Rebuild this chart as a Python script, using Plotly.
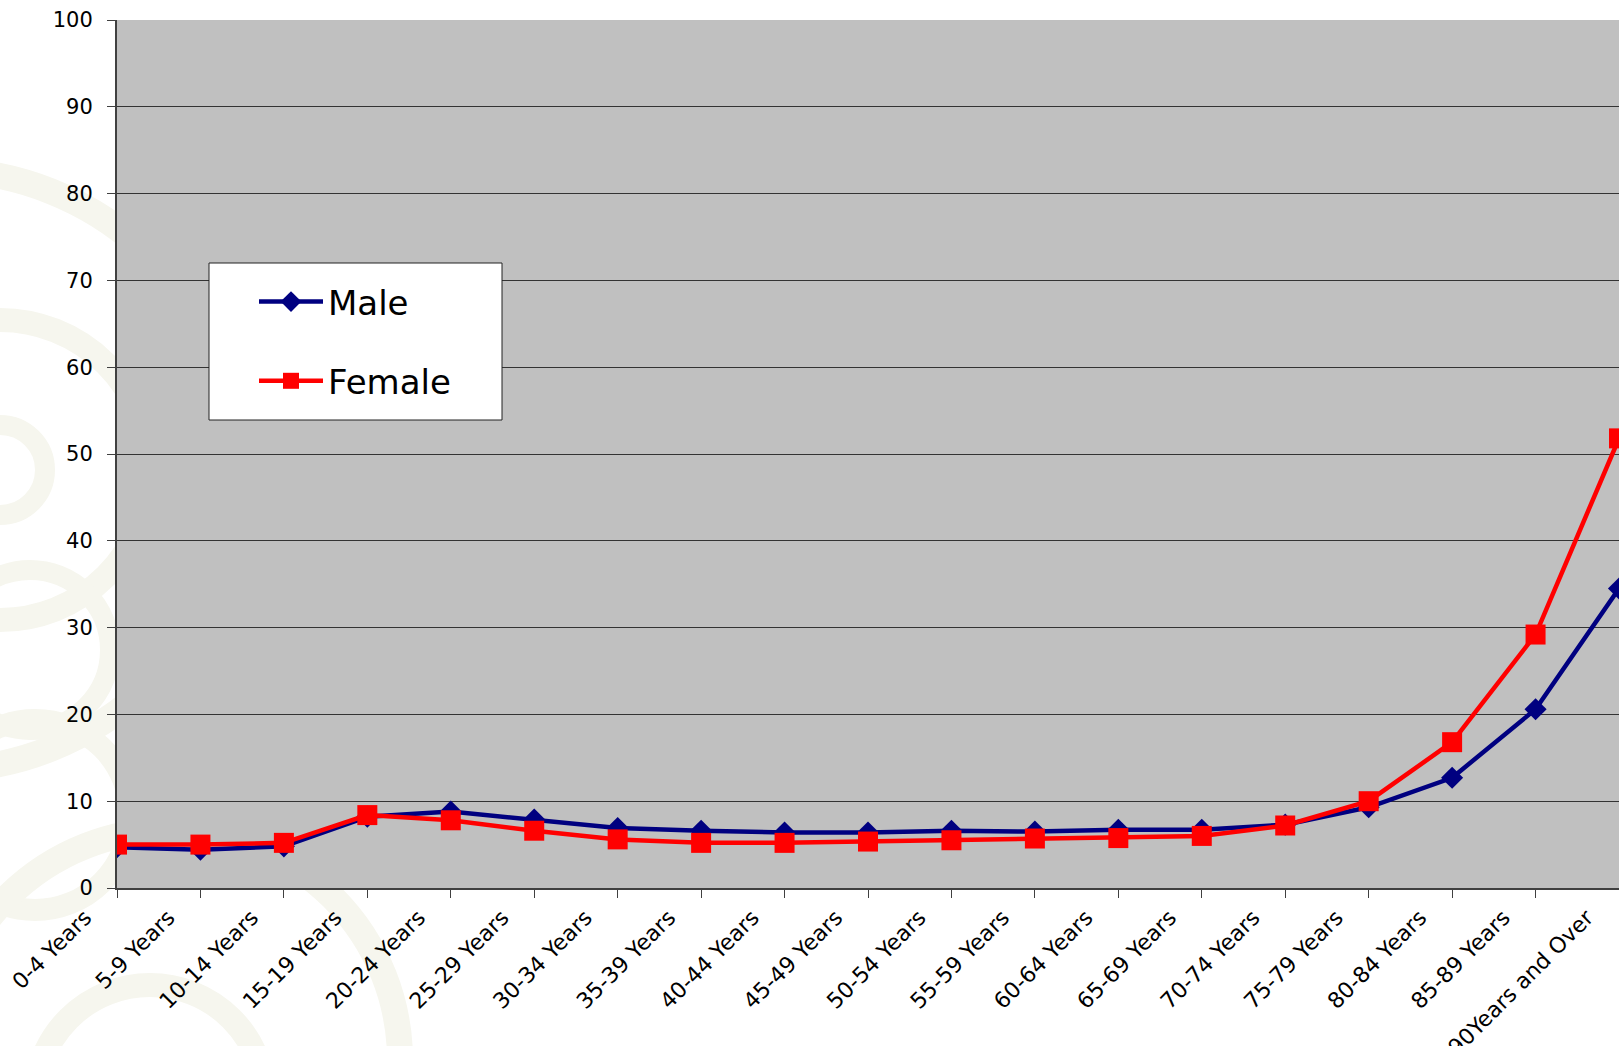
import plotly.graph_objects as go

categories = ["0-4 Years", "5-9 Years", "10-14 Years", "15-19 Years", "20-24 Years",
              "25-29 Years", "30-34 Years", "35-39 Years", "40-44 Years", "45-49 Years",
              "50-54 Years", "55-59 Years", "60-64 Years", "65-69 Years", "70-74 Years",
              "75-79 Years", "80-84 Years", "85-89 Years", "90Years and Over"]
male = [4.7, 4.4, 4.8, 8.2, 8.8, 7.9, 6.9, 6.6, 6.4, 6.4, 6.6, 6.5, 6.7, 6.7, 7.3,
        9.3, 12.7, 20.6, 34.5]
female = [5.0, 5.0, 5.2, 8.4, 7.8, 6.6, 5.6, 5.2, 5.2, 5.35, 5.5, 5.7, 5.75, 6.0, 7.2,
          10.0, 16.8, 29.2, 51.8]
y_ticks = list(range(0, 101, 10))

W, H = 1619, 1046
ML, MR, MT, MB = 117, 0, 20, 158
FONT = "DejaVu Sans"


def px_to_paper(x, y):
    return (x - ML) / (W - ML - MR), (H - MB - y) / (H - MT - MB)


fig = go.Figure()
fig.add_trace(go.Scatter(
    x=categories, y=male, name="Male", mode="lines+markers",
    line=dict(color="#000080", width=4.5),
    marker=dict(symbol="diamond", size=17, color="#000080"),
    legendgroup="m",
))
fig.add_trace(go.Scatter(
    x=categories, y=female, name="Female", mode="lines+markers",
    line=dict(color="#FF0000", width=4.5),
    marker=dict(symbol="square", size=20, color="#FF0000"),
    legendgroup="f",
))

# faint background watermark rings (decoration, outside plot area)
wm = "#F6F6EE"
rings = [((0, 470), 45, 20), ((0, 470), 150, 24), ((30, 650), 80, 20),
         ((35, 815), 95, 22), ((150, 1100), 115, 24), ((170, 1060), 230, 26),
         ((-60, 470), 300, 26)]
shapes = []
for (cx, cy), r, w in rings:
    x0, y0 = px_to_paper(cx - r, cy + r)
    x1, y1 = px_to_paper(cx + r, cy - r)
    shapes.append(dict(type="circle", xref="paper", yref="paper", x0=x0, y0=y0, x1=x1, y1=y1,
                       line=dict(color=wm, width=w), layer="below"))
shapes.append(dict(type="rect", xref="paper", yref="paper", x0=0, y0=0, x1=1, y1=1,
                   fillcolor="#C0C0C0", line=dict(width=0), layer="below"))

# legend frame
lx0, ly0 = px_to_paper(209, 420)
lx1, ly1 = px_to_paper(502, 263)
shapes.append(dict(type="rect", xref="paper", yref="paper", x0=lx0, y0=ly0, x1=lx1, y1=ly1,
                   fillcolor="white", line=dict(color="#222222", width=1), layer="above"))

leg_x, leg_y = px_to_paper(254, 273)

fig.update_layout(
    width=W, height=H,
    margin=dict(l=ML, r=MR, t=MT, b=MB, pad=0),
    paper_bgcolor="white", plot_bgcolor="#C0C0C0",
    font=dict(family=FONT, color="black"),
    shapes=shapes,
    showlegend=True,
    legend=dict(
        x=leg_x, y=leg_y, xanchor="left", yanchor="top",
        bgcolor="rgba(0,0,0,0)", borderwidth=0,
        font=dict(family=FONT, size=34, color="black"),
        itemwidth=64, tracegroupgap=32, traceorder="grouped",
    ),
    xaxis=dict(
        type="category", categoryorder="array", categoryarray=categories,
        range=[0, len(categories) - 1], automargin=False,
        showgrid=False, showline=True, linecolor="#404040", linewidth=2,
        ticks="outside", ticklen=8, tickcolor="#404040", tickwidth=1,
        tickangle=-45, tickfont=dict(family=FONT, size=22, color="black"),
        ticklabelshift=-32, ticklabelstandoff=-2,
        zeroline=False,
    ),
    yaxis=dict(
        range=[0, 100], tickvals=y_ticks, automargin=False,
        showgrid=True, gridcolor="#333333", gridwidth=1,
        showline=True, linecolor="#404040", linewidth=2,
        ticks="outside", ticklen=8, tickcolor="#404040", tickwidth=1,
        tickfont=dict(family=FONT, size=21, color="black"),
        ticklabelstandoff=10, zeroline=False,
    ),
)

fig.write_html("out.html")
